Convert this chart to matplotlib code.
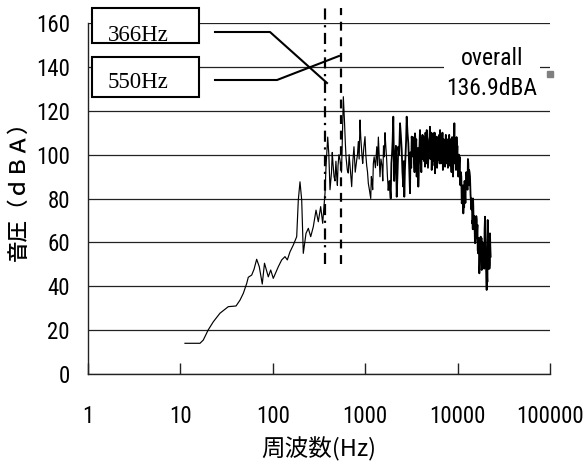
import numpy as np
import matplotlib
matplotlib.use("Agg")
import matplotlib.pyplot as plt
from matplotlib import font_manager as fm
from matplotlib.patches import Rectangle
from matplotlib.lines import Line2D
from matplotlib.ticker import NullLocator, FixedLocator

available = {f.name for f in fm.fontManager.ttflist}
def pick(*names):
    for n in names:
        if n in available:
            return n
    return 'DejaVu Sans'

NARROW = pick('Liberation Sans Narrow', 'Roboto Condensed', 'Liberation Sans')
SERIF = pick('Liberation Serif', 'DejaVu Serif')
CJK = pick('Noto Sans CJK JP', 'Noto Sans CJK SC')

# ---------------- data ----------------
freq_hz = [11.2, 16.3, 17.7, 20.0, 22.7, 26.8, 33.0, 40.0, 44.2, 48.0, 52.2, 54.3, 59.1, 62.6,
           66.9, 71.4, 76.9, 81.3, 89.4, 94.9, 101.2, 114.7, 124.8, 135.5, 143.6, 153.5, 166.7,
           181.4, 188.8, 196.9, 205.5, 213.8, 228.7, 242.3, 257.2, 274.3, 293.6, 310.7, 329.7,
           346.6, 367.3, 376.6, 393, 416, 432, 448, 471, 492, 508, 534, 554, 568, 580, 597, 620,
           656, 685, 714, 756, 809, 843, 879, 908, 940, 995, 1038, 1081, 1148, 1186, 1225, 1334,
           1388, 1446, 1521, 1578, 1638, 1709, 1778, 1888, 1950, 2014, 2102, 2193, 2282, 2382,
           2484, 2584, 2649, 2729, 2812, 2930, 3055, 3186, 3318, 3459, 3607, 3757, 3918, 4090,
           4256, 4439, 4634, 4819, 5023, 5245, 5458, 5701, 5943, 6180, 6456, 6730, 6998, 7311,
           7621, 7943, 8279, 8590, 8851, 9226, 9616, 9856, 10180, 10440, 10620, 11090, 11530,
           12030, 12560, 13060, 13620, 13960, 14420, 14790, 15420, 16100, 16500, 17180, 17790,
           18240, 18970, 19810, 20280, 20640, 21180, 21710, 22420, 22800]
level_dba = [14.0, 14.0, 15.5, 20.1, 23.8, 27.7, 30.7, 31.0, 33.7, 36.8, 41.3, 44.1, 45.1, 47.7,
             52.3, 48.9, 41.0, 50.5, 44.3, 47.4, 43.6, 48.9, 52.0, 53.5, 52.0, 55.7, 58.8,
             62.6, 79.3, 87.6, 79.3, 55.0, 64.1, 66.4, 62.6, 67.1, 74.7, 69.4, 76.3,
             68.7, 82.4, 94.5, 108, 84, 92, 96, 88, 90, 95, 97.5, 92, 110, 126.4, 115, 99,
             91.6, 95, 85.4, 103.6, 97.5, 106, 115.8, 104, 96, 108.2, 95, 86.9, 80, 88, 96, 103.6,
             108, 89.9, 95, 104, 110, 97.5, 84, 80, 100, 117.3, 97.5, 80.8, 103.6, 114.3,
             102, 85.4, 80.8, 100, 117.3, 105.1, 82.4, 108.2, 99, 109.7, 90, 85.4, 111.2, 102,
             108.2, 94.5, 111.2, 97.5, 112.7, 93, 109.7, 91.5, 108.2, 97.5, 111.2, 99, 105.1, 94.5,
             106.7, 96, 105.1, 92, 103.6, 114.3, 93, 100, 90, 96, 87, 77.8, 73.2,
             82.4, 90, 96, 90, 77.8, 68.7, 76.3, 59.6, 70.2, 56.5, 45.9, 62.6,
             47.4, 53.5, 71.7, 50.5, 38.3, 70.2, 56.5, 64.1, 53.5]

# extra readings in the densely oscillating part of the spectrum
freq_hz_fine = [404, 440, 460, 482, 500, 520, 545, 610, 640, 670, 700, 735, 780, 825, 860, 895,
                925, 965, 1015, 1060, 1110, 1165, 1205, 1250, 1290, 1360, 1415, 1480, 1550, 1610,
                1670, 1740, 1830, 1920, 1980, 2060, 2150, 2240, 2330, 2430, 2530, 2615, 2690,
                2770, 2870, 2990, 3120, 3250, 3390, 3530, 3680, 3840, 4000, 4170, 4350, 4540,
                4730, 4920, 5130, 5350, 5580, 5820, 6060, 6320, 6590, 6860, 7150, 7460, 7780,
                8110, 8430, 8720, 9000, 9420, 9740, 10020, 10310, 10850, 11300, 11780, 12300,
                12800, 13330, 13800, 14200, 14600, 15100, 15760, 16300, 16850, 17500, 18000,
                18600, 19400, 20000, 20900, 21450, 22100]
level_dba_fine = [100, 101, 90, 97, 86, 100, 94, 105, 93, 100, 90, 97, 92, 100, 98, 108,
                  99, 103, 100, 92, 84, 90, 84, 99, 94, 95, 100, 98, 88, 99,
                  104, 90, 88, 96, 106, 88, 104, 92, 100, 109, 92, 97, 93,
                  106, 110, 95, 96, 104, 96, 104, 98, 100, 96, 109, 97, 106,
                  100, 107, 104, 95, 106, 100, 104, 109, 96, 110, 101, 109, 100,
                  109, 100, 108, 96, 103, 108, 97, 100, 92, 84, 76, 88,
                  84, 93, 82, 80, 66, 72, 63, 66, 60, 58, 52,
                  60, 48, 64, 44, 64, 48]

freq_hz_dense = [3090, 3150, 3280, 3350, 3420, 3570, 3640, 3720, 3800, 3960, 4050, 4130, 4210,
                 4300, 4400, 4490, 4590, 4680, 4780, 4870, 4970, 5080, 5190, 5300, 5400, 5520,
                 5640, 5760, 5880, 6000, 6120, 6250, 6390, 6520, 6660, 6790, 6930, 7080, 7230,
                 7380, 7540, 7700, 7860, 8030, 8190, 8360, 8510, 8650, 8790, 8930, 9110, 9320,
                 9520, 9680, 9940, 10100, 10380, 10530, 10740, 10970, 11200, 11420, 11650, 11900,
                 12150, 12430, 12680, 12930, 13200, 13470, 13730, 14080, 14320, 14520, 14700,
                 14950, 15250, 15600, 15930, 16200, 16400, 16680, 17000, 17340, 17650, 18120,
                 18400, 18800, 19200, 19600, 20150, 20450, 20780, 21000, 21300, 21600, 21900,
                 22250, 22600]
level_dba_dense = [101, 94, 108, 100, 92, 107, 95, 103, 93, 104, 92, 106, 98,
                   104, 99, 110, 96, 108, 94, 102, 108, 98, 110, 100, 106, 97,
                   110, 100, 103, 94, 107, 102, 96, 108, 100, 104, 93, 107, 97,
                   104, 96, 107, 94, 103, 95, 107, 97, 102, 104, 90, 102, 96,
                   106, 95, 104, 96, 92, 99, 86, 90, 80, 86, 79, 88,
                   78, 92, 86, 98, 86, 92, 84, 75, 78, 70, 80,
                   66, 68, 60, 72, 62, 68, 55, 62, 50, 58, 62,
                   50, 58, 55, 66, 58, 46, 56, 42, 66, 48, 62,
                   50, 58]

marker_freqs = [366, 550]
marker_labels = ['366Hz', '550Hz']
marker_span = [50, 167]

overall_freq = 100000
overall_level = 136.9
overall_label = 'overall\n136.9dBA'

x_ticks = [1, 10, 100, 1000, 10000, 100000]
x_tick_labels = ['1', '10', '100', '1000', '10000', '100000']
y_ticks = [0, 20, 40, 60, 80, 100, 120, 140, 160]

# ---------------- figure ----------------
W, H = 587, 470
fig = plt.figure(figsize=(W / 100, H / 100), dpi=100)
ax = fig.add_axes([88 / W, 1 - 374 / H, (550 - 88) / W, (374 - 23) / H])

f_all = np.array(freq_hz + freq_hz_fine + freq_hz_dense, dtype=float)
l_all = np.array(level_dba + level_dba_fine + level_dba_dense, dtype=float)
order = np.argsort(f_all)
f_all, l_all = f_all[order], l_all[order]
split = 1800
lo = f_all <= split
hi = f_all >= f_all[lo][-1]
ax.plot(f_all[lo], l_all[lo], color='black', lw=0.85, zorder=3)
ax.plot(f_all[hi], l_all[hi], color='black', lw=1.3, zorder=3)

ax.set_xscale('log')
ax.set_xlim(1, 100000)
ax.set_ylim(0, 160)
ax.xaxis.set_major_locator(FixedLocator(x_ticks))
ax.xaxis.set_minor_locator(NullLocator())
ax.set_xticklabels(x_tick_labels)
ax.set_yticks(y_ticks)

for s in ['top', 'right']:
    ax.spines[s].set_visible(False)
for s in ['left', 'bottom']:
    ax.spines[s].set_color('#222222')
    ax.spines[s].set_linewidth(1.0)

ax.yaxis.grid(True, color='#222222', lw=0.9)
ax.set_axisbelow(True)

ax.tick_params(axis='x', direction='in', length=8, width=1, pad=22, labelsize=16.5, colors='#222222')
ax.tick_params(axis='y', direction='in', length=0, pad=13, labelsize=16.5, colors='#222222')
for lab in ax.get_xticklabels() + ax.get_yticklabels():
    lab.set_fontfamily(NARROW)
    lab.set_color('black')

ax.set_xlabel('周波数(Hz)', fontfamily=CJK, fontsize=17, labelpad=0)
ax.set_ylabel('音圧（ｄＢＡ）', fontfamily=CJK, fontsize=15.5, fontweight='medium')
ax.xaxis.set_label_coords(0.5, -0.18)
ax.yaxis.set_label_coords(-0.125, 0.535)

# vertical marker lines
ax.plot([marker_freqs[0]] * 2, marker_span, color='black', lw=1.6,
        linestyle=(0, (5, 2.5, 1, 2.5)), clip_on=False, zorder=4)
ax.plot([marker_freqs[1]] * 2, marker_span, color='black', lw=1.6,
        linestyle=(0, (4, 3)), clip_on=False, zorder=4)

# overall point and label
ax.plot([overall_freq], [overall_level], marker='s', ms=4, color='#7f7f7f',
        ls='none', clip_on=False, zorder=5)
ax.text(23500, 137, overall_label, ha='center', va='center', fontfamily=NARROW,
        fontsize=17, linespacing=1.35, zorder=4,
        bbox=dict(facecolor='white', edgecolor='none', pad=2))

# annotation boxes (figure pixels, from top)
def fx(x):
    return x / W
def fy(y):
    return 1 - y / H

boxes = [(92, 8, 199, 43, 41), (92, 57, 199, 97, 88)]
for (x0, y0, x1, y1, base), lab in zip(boxes, marker_labels):
    fig.add_artist(Rectangle((fx(x0), fy(y1)), fx(x1) - fx(x0), fy(y0) - fy(y1),
                             transform=fig.transFigure, facecolor='white',
                             edgecolor='black', lw=1.5, zorder=5))
    fig.text(fx(108), fy(base), lab, fontfamily=SERIF, fontsize=16.5,
             ha='left', va='baseline', zorder=6)

leaders = [[(215, 32), (270, 32), (327, 83)], [(215, 80), (277, 80), (339, 56)]]
for pts in leaders:
    fig.add_artist(Line2D([fx(p[0]) for p in pts], [fy(p[1]) for p in pts],
                          transform=fig.transFigure, color='black', lw=1.5, zorder=6))

fig.savefig('out.png', dpi=100)
